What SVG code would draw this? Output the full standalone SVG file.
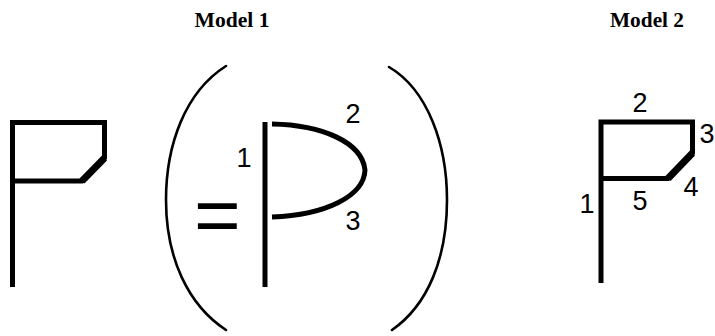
<svg xmlns="http://www.w3.org/2000/svg" width="715" height="336" viewBox="0 0 715 336">
<style>
.title{font-family:"Liberation Serif",serif;font-weight:bold;font-size:20px;fill:#000}
.num{font-family:"Liberation Sans",Arial,sans-serif;font-size:27px;fill:#000}
.eq{font-family:"Liberation Sans",Arial,sans-serif;font-size:80px;fill:#000}
.stk{fill:none;stroke:#000;stroke-width:5;stroke-linejoin:miter;stroke-linecap:butt}
.diag{fill:none;stroke:#000;stroke-width:7;stroke-linecap:butt}
.par{fill:none;stroke:#000;stroke-width:2.6;stroke-linecap:round}
</style>
<rect width="715" height="336" fill="#fff"/>
<text class="title" x="232" y="27" text-anchor="middle" textLength="75" lengthAdjust="spacingAndGlyphs">Model 1</text>
<text class="title" x="647" y="27" text-anchor="middle" textLength="74" lengthAdjust="spacingAndGlyphs">Model 2</text>
<g id="flag-left">
<path class="stk" d="M12.5,287 V122.5 H104.5 V158 L82,181 H12.5"/>
<path class="diag" d="M104.5,158 L82,181"/>
</g>
<g id="paren-left"><path class="par" d="M226,66 C185,92 166,145 166,200 C166,258 188,305 226,330"/></g>
<g id="equals"><text class="eq" x="194" y="242">=</text></g>
<g id="p-shape">
<path class="stk" d="M265,122 V287"/>
<path class="stk" d="M272,124 C322,125 362,142 365,170 C364,196 326,215 272,217"/>
<text class="num" x="244" y="167" text-anchor="middle">1</text>
<text class="num" x="353" y="123" text-anchor="middle">2</text>
<text class="num" x="353" y="230" text-anchor="middle">3</text>
</g>
<g id="paren-right"><path class="par" d="M389,67 C428,90 447,145 447,200 C447,258 428,305 392,330"/></g>
<g id="flag-right">
<path class="stk" d="M601,283 V122 H692.5 V153 L668,178.5 H601"/>
<path class="diag" d="M692.5,153 L668,178.5"/>
<text class="num" x="640" y="112" text-anchor="middle">2</text>
<text class="num" x="707" y="143" text-anchor="middle">3</text>
<text class="num" x="691" y="196" text-anchor="middle">4</text>
<text class="num" x="640" y="210" text-anchor="middle">5</text>
<text class="num" x="587" y="213" text-anchor="middle">1</text>
</g>
</svg>
